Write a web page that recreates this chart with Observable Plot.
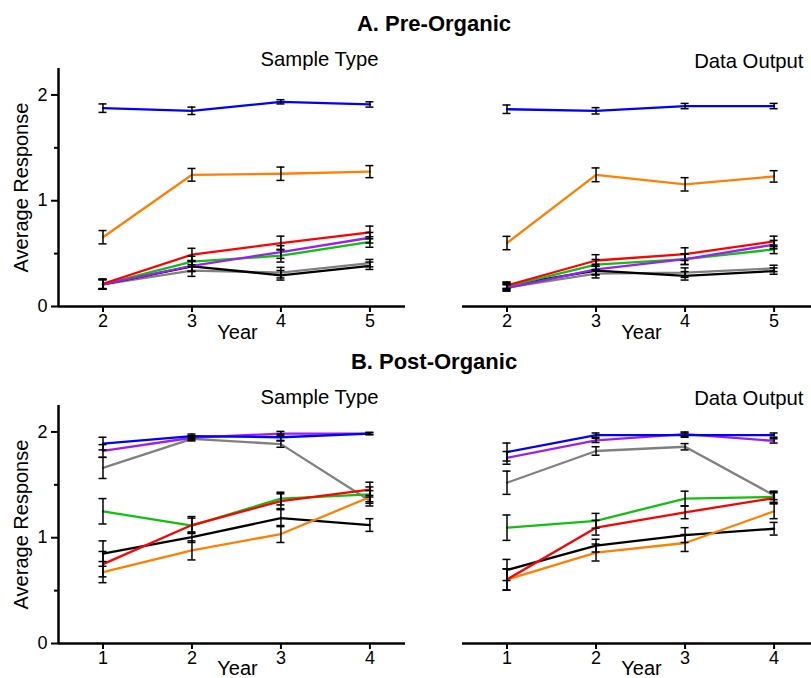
<!DOCTYPE html>
<html><head><meta charset="utf-8">
<script src="https://cdn.jsdelivr.net/npm/d3@7"></script>
<script src="https://cdn.jsdelivr.net/npm/@observablehq/plot@0.6"></script>
<style>
body{margin:0;background:#fff;font-family:"Liberation Sans",Arial,sans-serif;}
#fig{position:relative;width:811px;height:678px;overflow:hidden;background:#fff;}
.title{position:absolute;left:0;width:868px;text-align:center;font-weight:bold;font-size:22px;line-height:26px;color:#000;}
.panel{position:absolute;}
</style></head><body><div id="fig"></div>
<script>
// ---- data ----
const seriesNames  = ["Group 1","Group 2","Group 3","Group 4","Group 5","Group 6","Group 7"];
const seriesColors = ["#0000ff","#ff8000","#ff0000","#9a20f0","#10c010","#000000","#808080"];
const preYears  = [2,3,4,5];
const postYears = [1,2,3,4];
const yTicks = [0,1,2];
const yMinorTicks = [0.5,1.5];

// A. Pre-Organic, Sample Type (blue, orange, red, purple, green, black, gray)
const preSampleBlue   = [1.875,1.85,1.935,1.91],  preSampleBlueErr   = [0.04,0.035,0.02,0.025];
const preSampleOrange = [0.655,1.245,1.255,1.275],preSampleOrangeErr = [0.063,0.06,0.063,0.057];
const preSampleRed    = [0.215,0.49,0.60,0.70],   preSampleRedErr    = [0.045,0.06,0.065,0.06];
const preSamplePurple = [0.21,0.385,0.515,0.65],  preSamplePurpleErr = [0.045,0.05,0.06,0.05];
const preSampleGreen  = [0.21,0.425,0.48,0.61],   preSampleGreenErr  = [0.045,0.05,0.06,0.05];
const preSampleBlack  = [0.21,0.38,0.295,0.385],  preSampleBlackErr  = [0.045,0.05,0.045,0.035];
const preSampleGray   = [0.21,0.34,0.32,0.41],    preSampleGrayErr   = [0.045,0.055,0.05,0.035];

// A. Pre-Organic, Data Output
const preOutputBlue   = [1.865,1.85,1.895,1.895], preOutputBlueErr   = [0.04,0.03,0.025,0.025];
const preOutputOrange = [0.60,1.245,1.155,1.23],  preOutputOrangeErr = [0.063,0.065,0.063,0.054];
const preOutputRed    = [0.20,0.435,0.495,0.615], preOutputRedErr    = [0.03,0.055,0.06,0.05];
const preOutputPurple = [0.175,0.35,0.447,0.585], preOutputPurpleErr = [0.03,0.05,0.05,0.04];
const preOutputGreen  = [0.19,0.395,0.447,0.54],  preOutputGreenErr  = [0.03,0.05,0.05,0.04];
const preOutputBlack  = [0.20,0.34,0.29,0.335],   preOutputBlackErr  = [0.03,0.04,0.04,0.03];
const preOutputGray   = [0.18,0.31,0.32,0.36],    preOutputGrayErr   = [0.03,0.04,0.045,0.03];

// B. Post-Organic, Sample Type
const postSampleBlue   = [1.89,1.96,1.95,1.985],  postSampleBlueErr   = [0.06,0.02,0.03,0.01];
const postSampleOrange = [0.675,0.88,1.035,1.385],postSampleOrangeErr = [0.1,0.09,0.08,0.06];
const postSampleRed    = [0.75,1.12,1.345,1.455], postSampleRedErr    = [0.12,0.08,0.07,0.07];
const postSamplePurple = [1.82,1.945,1.985,1.985],postSamplePurpleErr = [0.06,0.02,0.02,0.01];
const postSampleGreen  = [1.25,1.115,1.37,1.41],  postSampleGreenErr  = [0.12,0.07,0.06,0.07];
const postSampleBlack  = [0.85,1.005,1.185,1.12], postSampleBlackErr  = [0.12,0.05,0.08,0.06];
const postSampleGray   = [1.66,1.935,1.885,1.35], postSampleGrayErr   = [0.1,0.02,0.03,0.05];

// B. Post-Organic, Data Output
const postOutputBlue   = [1.81,1.97,1.97,1.97],   postOutputBlueErr   = [0.085,0.02,0.02,0.02];
const postOutputOrange = [0.605,0.86,0.95,1.25],  postOutputOrangeErr = [0.1,0.08,0.08,0.07];
const postOutputRed    = [0.605,1.095,1.24,1.375],postOutputRedErr    = [0.1,0.07,0.06,0.05];
const postOutputPurple = [1.755,1.92,1.98,1.915], postOutputPurpleErr = [0.06,0.02,0.02,0.02];
const postOutputGreen  = [1.095,1.16,1.37,1.385], postOutputGreenErr  = [0.12,0.07,0.07,0.05];
const postOutputBlack  = [0.695,0.925,1.025,1.085],postOutputBlackErr = [0.1,0.06,0.07,0.06];
const postOutputGray   = [1.52,1.82,1.86,1.40],   postOutputGrayErr   = [0.11,0.04,0.03,0.04];

function table(years, vals, errs) {
  const out = [];
  seriesNames.forEach((s, i) => {
    years.forEach((yr, j) => out.push({series: s, year: yr, value: vals[i][j], err: errs[i][j]}));
  });
  return out;
}
const preSample = table(preYears,
  [preSampleBlue,preSampleOrange,preSampleRed,preSamplePurple,preSampleGreen,preSampleBlack,preSampleGray],
  [preSampleBlueErr,preSampleOrangeErr,preSampleRedErr,preSamplePurpleErr,preSampleGreenErr,preSampleBlackErr,preSampleGrayErr]);
const preOutput = table(preYears,
  [preOutputBlue,preOutputOrange,preOutputRed,preOutputPurple,preOutputGreen,preOutputBlack,preOutputGray],
  [preOutputBlueErr,preOutputOrangeErr,preOutputRedErr,preOutputPurpleErr,preOutputGreenErr,preOutputBlackErr,preOutputGrayErr]);
const postSample = table(postYears,
  [postSampleBlue,postSampleOrange,postSampleRed,postSamplePurple,postSampleGreen,postSampleBlack,postSampleGray],
  [postSampleBlueErr,postSampleOrangeErr,postSampleRedErr,postSamplePurpleErr,postSampleGreenErr,postSampleBlackErr,postSampleGrayErr]);
const postOutput = table(postYears,
  [postOutputBlue,postOutputOrange,postOutputRed,postOutputPurple,postOutputGreen,postOutputBlack,postOutputGray],
  [postOutputBlueErr,postOutputOrangeErr,postOutputRedErr,postOutputPurpleErr,postOutputGreenErr,postOutputBlackErr,postOutputGrayErr]);

// draw order of lines (bottom to top): gray, black, green, purple, orange, red, blue
const drawOrder = ["Group 7","Group 6","Group 5","Group 4","Group 2","Group 3","Group 1"];

const fig = document.getElementById("fig");
function addTitle(text, top) {
  const d = document.createElement("div");
  d.className = "title"; d.textContent = text; d.style.top = top + "px";
  fig.appendChild(d);
}

function panel(o) {
  const data = o.data.slice().sort((a,b) => drawOrder.indexOf(a.series) - drawOrder.indexOf(b.series));
  const marks = [
    Plot.line(data, {x: "year", y: "value", z: "series", stroke: "series", strokeWidth: 2.3}),
    Plot.ruleX(data, {x: "year", y1: d => d.value - d.err, y2: d => d.value + d.err, stroke: "#000", strokeWidth: 1.5}),
    Plot.ruleY(data, {y: d => d.value - d.err, x1: "year", x2: "year", insetLeft: -4, insetRight: -4, stroke: "#000", strokeWidth: 1.5}),
    Plot.ruleY(data, {y: d => d.value + d.err, x1: "year", x2: "year", insetLeft: -4, insetRight: -4, stroke: "#000", strokeWidth: 1.5}),
    Plot.ruleY([0], {stroke: "#000", strokeWidth: 2.5}),
    Plot.axisX({ticks: o.years, tickSize: 6, tickPadding: 2, fontSize: 18, stroke: "#000", strokeWidth: 2, tickFormat: d => String(d), label: null}),
    Plot.text([o.label], {frameAnchor: o.right ? "top-right" : "top-left", dx: o.right ? -8 : 202, dy: o.labelDy,
      textAnchor: o.right ? "end" : "start", lineAnchor: "middle", fontSize: 20.3, fill: "#000"}),
    Plot.text(["Year"], {frameAnchor: "bottom-left", dx: 179, dy: o.yearDy, textAnchor: "middle", lineAnchor: "middle", fontSize: 20, fill: "#000"})
  ];
  if (o.showY) {
    marks.push(
      Plot.ruleX([o.domain[0]], {stroke: "#000", strokeWidth: 2.5}),
      Plot.axisY({ticks: yTicks, tickSize: 7, tickPadding: 4, fontSize: 18, stroke: "#000", strokeWidth: 2, tickFormat: d => String(d), label: null}),
      Plot.axisY({ticks: yMinorTicks, tickSize: 4, stroke: "#000", strokeWidth: 2, text: null, label: null}),
      Plot.text(["Average Response"], {frameAnchor: "left", dx: -37, rotate: -90, textAnchor: "middle", lineAnchor: "middle", fontSize: 20, fill: "#000"})
    );
  }
  const p = Plot.plot({
    width: o.width, height: o.height,
    marginLeft: o.mLeft, marginRight: 0, marginTop: o.mTop, marginBottom: o.mBottom,
    x: {domain: o.domain},
    y: o.showY ? {domain: [0, 2.25]} : {domain: [0, 2.25], axis: null},
    color: {domain: seriesNames, range: seriesColors},
    style: {fontFamily: '"Liberation Sans", Arial, sans-serif', color: "#000", background: "transparent", overflow: "visible"},
    marks
  });
  p.classList.add("panel");
  p.style.left = o.left + "px"; p.style.top = o.top + "px";
  fig.appendChild(p);
}

addTitle("A. Pre-Organic", 10.5);
addTitle("B. Post-Organic", 349);

panel({data: preSample, years: preYears, domain: [1.5, 5.4], showY: true, label: "Sample Type", right: false,
  left: 0, top: 40, width: 405, height: 305, mLeft: 58, mTop: 28, mBottom: 39, labelDy: -9.5, yearDy: 26});
panel({data: preOutput, years: preYears, domain: [1.5, 5.42], showY: false, label: "Data Output", right: true,
  left: 405, top: 40, width: 406, height: 305, mLeft: 57, mTop: 28, mBottom: 39, labelDy: -7, yearDy: 26});
panel({data: postSample, years: postYears, domain: [0.5, 4.4], showY: true, label: "Sample Type", right: false,
  left: 0, top: 378, width: 405, height: 300, mLeft: 58, mTop: 27, mBottom: 35, labelDy: -8, yearDy: 25});
panel({data: postOutput, years: postYears, domain: [0.5, 4.42], showY: false, label: "Data Output", right: true,
  left: 405, top: 378, width: 406, height: 300, mLeft: 57, mTop: 27, mBottom: 35, labelDy: -7, yearDy: 25});
</script>
</body></html>
